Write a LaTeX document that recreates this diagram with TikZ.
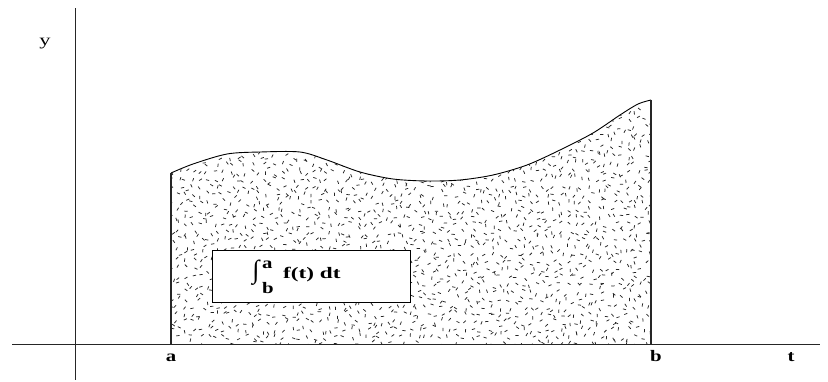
\documentclass[tikz,border=0pt]{standalone}
\usepackage{fontspec}
\usepackage{graphicx}
\setmainfont{Liberation Serif}
\begin{document}
\begin{tikzpicture}[x=1pt,y=-1pt,
  axis/.style={line width=0.8pt,black!85},
  edge/.style={line width=1.3pt,black!85},
  lbl/.style={font=\fontsize{16}{18}\selectfont\bfseries,inner sep=0pt},
  dot/.style={line width=0.75pt,black!85}]
\useasboundingbox (0,0) rectangle (828,381);
\begin{scope}
  \clip (171,344) -- plot[smooth,tension=0.5] coordinates {(171,173) (193,164) (227,154) (260,152) (300,152) (327,160) (360,172) (393,179) (427,181) (460,180) (493,175) (527,165) (560,150) (593,133) (620,115) (638,104) (651,100)} -- (651,344) -- cycle;
  \pgfmathsetseed{4711}
  \foreach \gx in {168,175.5,...,652}{
    \foreach \gy in {94,101.5,...,345}{
      \pgfmathsetmacro\px{\gx+6*rnd}
      \pgfmathsetmacro\py{\gy+6*rnd}
      \pgfmathsetmacro\an{360*rnd}
      \draw[dot] (\px,\py) -- ++(\an:3.3);
    }
  }
\end{scope}
\draw[line width=0.9pt] plot[smooth,tension=0.5] coordinates {(171,173) (193,164) (227,154) (260,152) (300,152) (327,160) (360,172) (393,179) (427,181) (460,180) (493,175) (527,165) (560,150) (593,133) (620,115) (638,104) (651,100)};
% axes
\coordinate (xs) at (12,344);
\coordinate (xe) at (820,344);
\coordinate (ys) at (75,8);
\coordinate (ye) at (75,380);
\draw[axis] (xs) -- (xe);
\draw[axis] (ys) -- (ye);
\coordinate (la) at (171,344);
\coordinate (lat) at (171,173);
\coordinate (rb) at (651,344);
\coordinate (rbt) at (651,100);
\draw[edge] (la) -- (lat);
\draw[edge] (rb) -- (rbt);
% box
\node[draw,line width=0.8pt,fill=white,minimum width=198pt,minimum height=52pt,inner sep=0pt] (box) at (311,276) {};
\node[inner sep=0pt,font=\fontsize{26}{26}\selectfont] (int) at (256,273) {∫};
\node[lbl,anchor=base west] (supA) at (262,268) {\scalebox{1.3}[1]{a}};
\node[lbl,anchor=base west] (subB) at (262,293) {\scalebox{1.3}[1]{b}};
\node[lbl,anchor=base west] (ft) at (283,278) {\scalebox{1.45}[1]{f(t) dt}};
% labels
\node[font=\fontsize{16}{18}\selectfont,inner sep=0pt,anchor=base] (ly) at (45,45) {\scalebox{1.4}[1]{y}};
\node[lbl,anchor=base] (lA) at (171,361) {\scalebox{1.3}[1]{a}};
\node[lbl,anchor=base] (lB) at (656,361) {\scalebox{1.3}[1]{b}};
\node[lbl,anchor=base] (lT) at (791,361) {\scalebox{1.3}[1]{t}};
\end{tikzpicture}
\end{document}
